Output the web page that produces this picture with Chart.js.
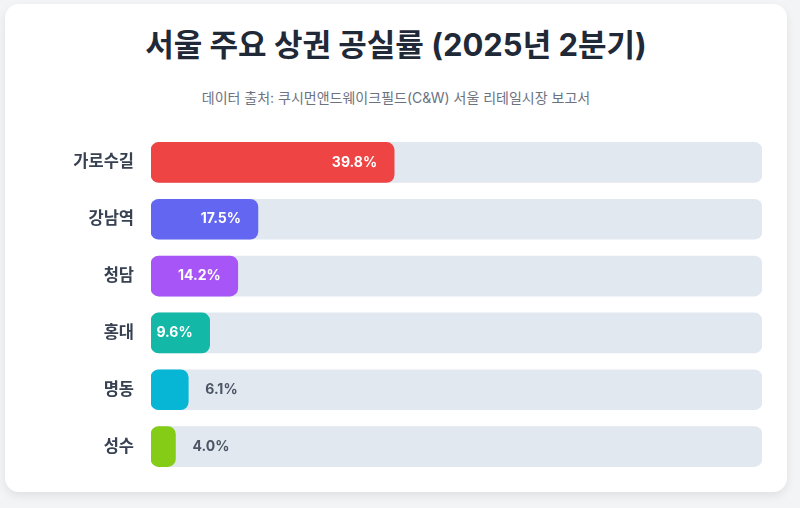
<!doctype html>
<html lang="ko">
<head>
<meta charset="utf-8">
<title>서울 주요 상권 공실률</title>
<script src="https://cdn.jsdelivr.net/npm/chart.js@4.4.1/dist/chart.umd.min.js"></script>
<style>
  html, body { margin: 0; padding: 0; }
  body {
    width: 800px; height: 508px; overflow: hidden;
    background: #f3f4f6;
    font-family: 'Inter', 'Noto Sans CJK KR', sans-serif;
  }
  .card {
    position: absolute; left: 5px; top: 4px; width: 782px; height: 488px;
    background: #fff; border-radius: 14px;
    box-shadow: 0 4px 10px rgba(0,0,0,0.08);
  }
  h1 {
    position: absolute; left: 0; right: 0; top: 21px; margin: 0;
    text-align: center; font-size: 31px; font-weight: 700; color: #1f2937;
    line-height: 40px;
  }
  .src {
    position: absolute; left: 0; right: 0; top: 84px; margin: 0;
    text-align: center; font-size: 14px; color: #6b7280; line-height: 20px;
  }
  .wrap { position: absolute; left: 35px; top: 100px; width: 730px; height: 401px; }
</style>
</head>
<body>
<div class="card">
  <h1>서울 주요 상권 공실률 (2025년 2분기)</h1>
  <p class="src">데이터 출처: 쿠시먼앤드웨이크필드(C&amp;W) 서울 리테일시장 보고서</p>
  <div class="wrap"><canvas id="myChart"></canvas></div>
</div>
<script>
var areas = ['가로수길', '강남역', '청담', '홍대', '명동', '성수'];
var rates = [39.8, 17.5, 14.2, 9.6, 6.1, 4.0];
var colors = ['#ef4444', '#6366f1', '#a855f7', '#14b8a6', '#06b6d4', '#84cc16'];
var scaleMax = 100;

// value labels: white inside wide bars, gray just outside short ones
var valueLabels = {
  id: 'valueLabels',
  afterDatasetsDraw: function (chart) {
    var ctx = chart.ctx;
    var meta = chart.getDatasetMeta(0);
    ctx.save();
    ctx.font = "700 14px 'Inter', 'Noto Sans CJK KR', sans-serif";
    ctx.textBaseline = 'middle';
    meta.data.forEach(function (bar, i) {
      var txt = rates[i].toFixed(1) + '%';
      if (rates[i] >= 8) {
        ctx.fillStyle = '#ffffff';
        ctx.textAlign = 'right';
        ctx.fillText(txt, bar.x - 17, bar.y);
      } else {
        ctx.fillStyle = '#4b5563';
        ctx.textAlign = 'left';
        ctx.fillText(txt, bar.x + 17, bar.y);
      }
    });
    ctx.restore();
  }
};

var chart = new Chart(document.getElementById('myChart').getContext('2d'), {
  type: 'bar',
  data: {
    labels: areas,
    datasets: [
      {
        data: rates,
        backgroundColor: colors,
        borderRadius: 8,
        borderSkipped: false,
        barThickness: 40,
        grouped: false
      },
      {
        data: areas.map(function () { return scaleMax; }),
        backgroundColor: '#e2e8f0',
        borderRadius: 8,
        borderSkipped: false,
        barThickness: 40,
        grouped: false
      }
    ]
  },
  options: {
    indexAxis: 'y',
    responsive: true,
    maintainAspectRatio: false,
    animation: false,
    layout: { padding: { top: 30, bottom: 30, right: 8 } },
    plugins: {
      legend: { display: false },
      tooltip: { enabled: false }
    },
    scales: {
      x: { display: false, min: 0, max: scaleMax },
      y: {
        grid: { display: false, drawTicks: false },
        border: { display: false },
        ticks: {
          padding: 17,
          color: '#374151',
          font: { family: "'Inter', 'Noto Sans CJK KR', sans-serif", size: 16.5, weight: '700' }
        },
        afterFit: function (scale) { scale.width = 111; }
      }
    }
  },
  plugins: [valueLabels]
});
</script>
</body>
</html>
